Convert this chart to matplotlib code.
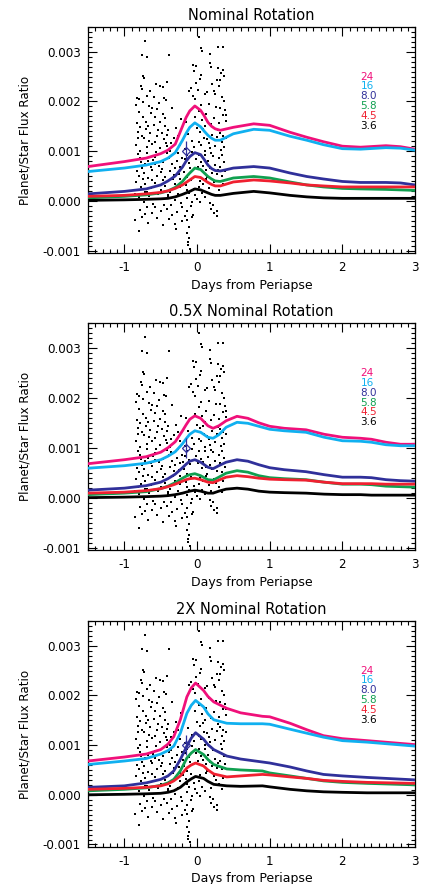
import matplotlib
matplotlib.use("Agg")
import matplotlib.pyplot as plt
from matplotlib.ticker import MultipleLocator, FormatStrFormatter

titles = ["Nominal Rotation", "0.5X Nominal Rotation", "2X Nominal Rotation"]
bands = ["24", "16", "8.0", "5.8", "4.5", "3.6"]
band_colors = ["#F0107A", "#10B0F0", "#30309A", "#10A050", "#F02030", "#000000"]

# ---- model curves, panel 1 (nominal rotation)
x_nom = [-1.5, -1.0, -0.7, -0.5, -0.4, -0.3, -0.2, -0.15, -0.1, -0.03, 0.05, 0.1, 0.15, 0.2, 0.25, 0.32,
         0.5, 0.78, 1.0, 1.28, 1.51, 1.74, 2.0, 2.25, 2.6, 2.8, 3.0]
nom_24 = [0.00069, 0.00079, 0.00086, 0.00095, 0.00102, 0.00114, 0.00150, 0.00168, 0.00181, 0.00191, 0.00182,
          0.00171, 0.00158, 0.00150, 0.00145, 0.00142, 0.00148, 0.00155, 0.00152, 0.00138, 0.00128, 0.00119,
          0.00110, 0.00108, 0.00111, 0.00109, 0.00104]
nom_16 = [0.00059, 0.00066, 0.00072, 0.00079, 0.00086, 0.00097, 0.00122, 0.00136, 0.00148, 0.00157, 0.00149,
          0.00140, 0.00132, 0.00126, 0.00122, 0.00122, 0.00135, 0.00144, 0.00142, 0.00130, 0.00122, 0.00113,
          0.00105, 0.00104, 0.00107, 0.00106, 0.00102]
nom_80 = [0.00014, 0.00019, 0.00024, 0.00032, 0.00040, 0.00050, 0.00068, 0.00080, 0.00089, 0.00097, 0.00093,
          0.00083, 0.00072, 0.00065, 0.00061, 0.00060, 0.00066, 0.00069, 0.00066, 0.00056, 0.00049, 0.00044,
          0.00039, 0.00037, 0.00037, 0.00036, 0.00032]
nom_58 = [0.00006, 0.00009, 0.00012, 0.00016, 0.00020, 0.00027, 0.00039, 0.00048, 0.00056, 0.00066, 0.00063,
          0.00056, 0.00049, 0.00044, 0.00040, 0.00039, 0.00046, 0.00049, 0.00046, 0.00038, 0.00032, 0.00028,
          0.00025, 0.00024, 0.00023, 0.00022, 0.00021]
nom_45 = [0.00009, 0.00011, 0.00014, 0.00017, 0.00020, 0.00025, 0.00032, 0.00037, 0.00042, 0.00049, 0.00047,
          0.00042, 0.00037, 0.00033, 0.00030, 0.00030, 0.00038, 0.00042, 0.00040, 0.00036, 0.00032, 0.00030,
          0.00028, 0.00028, 0.00028, 0.00028, 0.00028]
nom_36 = [0.00001, 0.00002, 0.00003, 0.00004, 0.00005, 0.00008, 0.00013, 0.00016, 0.00019, 0.00024, 0.00022,
          0.00019, 0.00016, 0.00013, 0.00011, 0.00011, 0.00015, 0.00019, 0.00016, 0.00011, 0.00008, 0.00006,
          0.00005, 0.00005, 0.00005, 0.00005, 0.00005]

# ---- panel 2 (0.5X nominal rotation)
x_half = [-1.5, -1.0, -0.7, -0.5, -0.4, -0.3, -0.2, -0.15, -0.1, -0.03, 0.05, 0.15, 0.22, 0.3, 0.4, 0.55,
          0.7, 0.85, 1.0, 1.2, 1.5, 1.75, 2.0, 2.25, 2.4, 2.6, 2.8, 3.0]
half_24 = [0.00068, 0.00076, 0.00082, 0.00091, 0.00100, 0.00112, 0.00134, 0.00146, 0.00157, 0.00164, 0.00159,
           0.00144, 0.00139, 0.00144, 0.00154, 0.00163, 0.00159, 0.00150, 0.00143, 0.00139, 0.00136, 0.00127,
           0.00121, 0.00119, 0.00117, 0.00111, 0.00107, 0.00107]
half_16 = [0.00059, 0.00064, 0.00069, 0.00076, 0.00083, 0.00092, 0.00108, 0.00118, 0.00127, 0.00134, 0.00131,
           0.00121, 0.00119, 0.00126, 0.00141, 0.00151, 0.00149, 0.00143, 0.00137, 0.00134, 0.00131, 0.00121,
           0.00114, 0.00113, 0.00111, 0.00106, 0.00104, 0.00104]
half_80 = [0.00015, 0.00019, 0.00024, 0.00031, 0.00038, 0.00047, 0.00060, 0.00067, 0.00073, 0.00076, 0.00071,
           0.00061, 0.00058, 0.00064, 0.00071, 0.00076, 0.00073, 0.00066, 0.00060, 0.00056, 0.00052, 0.00046,
           0.00041, 0.00041, 0.00040, 0.00036, 0.00034, 0.00033]
half_58 = [0.00006, 0.00009, 0.00012, 0.00018, 0.00023, 0.00030, 0.00039, 0.00043, 0.00046, 0.00048, 0.00044,
           0.00036, 0.00035, 0.00041, 0.00049, 0.00054, 0.00051, 0.00044, 0.00040, 0.00038, 0.00036, 0.00031,
           0.00027, 0.00027, 0.00026, 0.00023, 0.00022, 0.00021]
half_45 = [0.00009, 0.00011, 0.00014, 0.00018, 0.00022, 0.00027, 0.00033, 0.00036, 0.00038, 0.00039, 0.00036,
           0.00031, 0.00030, 0.00035, 0.00041, 0.00044, 0.00042, 0.00039, 0.00037, 0.00036, 0.00035, 0.00031,
           0.00028, 0.00028, 0.00028, 0.00027, 0.00027, 0.00027]
half_36 = [0.00000, 0.00001, 0.00002, 0.00003, 0.00004, 0.00006, 0.00009, 0.00011, 0.00013, 0.00015, 0.00013,
           0.00009, 0.00009, 0.00013, 0.00017, 0.00019, 0.00017, 0.00013, 0.00011, 0.00010, 0.00009, 0.00007,
           0.00006, 0.00006, 0.00005, 0.00005, 0.00005, 0.00005]

# ---- panel 3 (2X nominal rotation)
x_dbl = [-1.5, -1.0, -0.7, -0.5, -0.4, -0.32, -0.23, -0.14, -0.08, -0.02, 0.09, 0.15, 0.23, 0.41, 0.6,
         0.9, 1.0, 1.28, 1.51, 1.74, 2.0, 2.34, 3.0]
dbl_24 = [0.00068, 0.00076, 0.00082, 0.00091, 0.00102, 0.00117, 0.00151, 0.00197, 0.00215, 0.00225, 0.00210,
          0.00198, 0.00187, 0.00174, 0.00165, 0.00158, 0.00157, 0.00144, 0.00131, 0.00119, 0.00113, 0.00109,
          0.00101]
dbl_16 = [0.00061, 0.00068, 0.00073, 0.00082, 0.00089, 0.00098, 0.00124, 0.00164, 0.00180, 0.00190, 0.00177,
          0.00163, 0.00151, 0.00144, 0.00143, 0.00143, 0.00142, 0.00132, 0.00124, 0.00116, 0.00109, 0.00106,
          0.00098]
dbl_80 = [0.00015, 0.00018, 0.00024, 0.00031, 0.00038, 0.00048, 0.00071, 0.00098, 0.00114, 0.00125, 0.00112,
          0.00101, 0.00091, 0.00078, 0.00072, 0.00066, 0.00064, 0.00056, 0.00048, 0.00041, 0.00038, 0.00035,
          0.00030]
dbl_58 = [0.00008, 0.00011, 0.00014, 0.00019, 0.00024, 0.00031, 0.00048, 0.00074, 0.00084, 0.00091, 0.00081,
          0.00071, 0.00061, 0.00052, 0.00050, 0.00048, 0.00044, 0.00038, 0.00033, 0.00028, 0.00025, 0.00023,
          0.00020]
dbl_45 = [0.00011, 0.00013, 0.00015, 0.00018, 0.00022, 0.00028, 0.00038, 0.00054, 0.00060, 0.00064, 0.00058,
          0.00050, 0.00042, 0.00036, 0.00038, 0.00041, 0.00040, 0.00036, 0.00033, 0.00029, 0.00027, 0.00025,
          0.00023]
dbl_36 = [0.00000, 0.00001, 0.00002, 0.00003, 0.00005, 0.00008, 0.00015, 0.00026, 0.00032, 0.00037, 0.00033,
          0.00027, 0.00021, 0.00018, 0.00017, 0.00018, 0.00016, 0.00011, 0.00008, 0.00006, 0.00005, 0.00004,
          0.00004]

# ---- observed photometry (identical in every panel): (days, flux ratio)
obs_points = [
    (0.032, 0.00330), (-0.722, 0.00322), (0.048, 0.00307), (0.071, 0.00302), (0.284, 0.00309), (0.358, 0.00310),
    (-0.764, 0.00293), (-0.683, 0.00290), (-0.381, 0.00294), (0.176, 0.00296), (-0.062, 0.00274), (-0.013, 0.00272),
    (-0.046, 0.00262), (0.293, 0.00267), (0.352, 0.00263), (-0.748, 0.00252), (-0.731, 0.00247), (0.172, 0.00278),
    (0.197, 0.00270), (0.058, 0.00253), (0.043, 0.00245), (0.367, 0.00252), (0.334, 0.00258),
    (-0.566, 0.00235), (-0.503, 0.00231), (-0.472, 0.00229), (-0.412, 0.00239), (-0.777, 0.00231), (-0.761, 0.00225),
    (-0.088, 0.00227), (-0.117, 0.00222), (0.268, 0.00244), (0.318, 0.00243), (-0.826, 0.00207), (-0.804, 0.00204),
    (-0.694, 0.00212), (-0.597, 0.00209), (-0.458, 0.00206), (-0.427, 0.00203), (-0.051, 0.00212), (-0.024, 0.00204),
    (0.137, 0.00219), (0.229, 0.00222), (0.252, 0.00216), (0.343, 0.00209), (0.369, 0.00200), (0.104, 0.00215),
    (0.206, 0.00236), (-0.016, 0.00238), (-0.642, 0.00221), (0.013, 0.00224), (0.309, 0.00232),
    (-0.833, 0.00192), (-0.738, 0.00198), (-0.661, 0.00190), (-0.343, 0.00186), (-0.548, 0.00184), (0.323, 0.00187),
    (0.384, 0.00183), (0.052, 0.00192), (0.158, 0.00194), (-0.628, 0.00176), (-0.574, 0.00169), (-0.473, 0.00174),
    (-0.437, 0.00167), (-0.822, 0.00156), (-0.786, 0.00149), (-0.707, 0.00159), (-0.673, 0.00151), (-0.592, 0.00153),
    (-0.504, 0.00158), (-0.446, 0.00151), (-0.394, 0.00143), (-0.283, 0.00146), (-0.214, 0.00164), (-0.158, 0.00159),
    (0.073, 0.00163), (0.114, 0.00151), (0.233, 0.00166), (0.297, 0.00157), (0.392, 0.00173), (0.401, 0.00161),
    (-0.796, 0.00178), (-0.521, 0.00196), (0.024, 0.00181), (0.127, 0.00174), (0.262, 0.00188), (-0.028, 0.00168),
    (0.198, 0.00155), (-0.743, 0.00168), (-0.617, 0.00186), (0.356, 0.00172),
    (-0.807, 0.00139), (-0.758, 0.00131), (-0.726, 0.00126), (-0.645, 0.00136), (-0.553, 0.00131), (-0.484, 0.00137),
    (-0.452, 0.00124), (-0.408, 0.00133), (-0.318, 0.00126), (0.047, 0.00139), (0.093, 0.00127), (0.143, 0.00124),
    (0.212, 0.00133), (0.316, 0.00137), (0.363, 0.00131), (-0.836, 0.00113), (-0.789, 0.00101), (-0.687, 0.00108),
    (-0.619, 0.00114), (-0.568, 0.00098), (-0.513, 0.00106), (-0.414, 0.00110), (-0.366, 0.00101), (-0.232, 0.00113),
    (-0.163, 0.00104), (-0.072, 0.00120), (-0.038, 0.00108), (0.056, 0.00113), (0.108, 0.00101), (0.184, 0.00106),
    (0.247, 0.00111), (0.327, 0.00103), (0.378, 0.00108), (-0.817, 0.00127), (-0.702, 0.00144), (-0.583, 0.00119),
    (-0.532, 0.00143), (-0.352, 0.00117), (-0.264, 0.00131), (-0.124, 0.00134), (0.003, 0.00146), (0.021, 0.00118),
    (0.083, 0.00144), (0.163, 0.00117), (0.274, 0.00128), (0.288, 0.00142), (0.344, 0.00119), (0.397, 0.00127),
    (-0.664, 0.00121), (-0.431, 0.00116),
    (-0.781, 0.00086), (-0.716, 0.00074), (-0.668, 0.00080), (-0.603, 0.00083), (-0.527, 0.00071), (-0.463, 0.00078),
    (-0.386, 0.00086), (-0.342, 0.00074), (-0.276, 0.00080), (-0.207, 0.00086), (-0.144, 0.00093), (-0.017, 0.00084),
    (0.054, 0.00078), (0.113, 0.00093), (0.157, 0.00081), (0.226, 0.00091), (0.303, 0.00086), (0.338, 0.00093),
    (-0.828, 0.00060), (-0.797, 0.00051), (-0.734, 0.00057), (-0.672, 0.00045), (-0.614, 0.00063), (-0.556, 0.00051),
    (-0.497, 0.00058), (-0.443, 0.00047), (-0.374, 0.00061), (-0.322, 0.00053), (-0.253, 0.00055), (-0.228, 0.00043),
    (-0.183, 0.00058), (-0.137, 0.00048), (-0.093, 0.00067), (0.068, 0.00060), (0.142, 0.00048), (0.207, 0.00057),
    (0.283, 0.00063), (0.347, 0.00051), (-0.812, 0.00094), (-0.753, 0.00066), (-0.692, 0.00097), (-0.633, 0.00069),
    (-0.574, 0.00089), (-0.487, 0.00064), (-0.418, 0.00096), (-0.304, 0.00066), (-0.262, 0.00097), (-0.193, 0.00071),
    (-0.107, 0.00076), (-0.064, 0.00098), (0.012, 0.00069), (0.034, 0.00093), (0.087, 0.00071), (0.128, 0.00062),
    (0.193, 0.00096), (0.253, 0.00073), (0.268, 0.00054), (0.312, 0.00069), (0.373, 0.00079), (0.387, 0.00061),
    (-0.768, 0.00078), (-0.582, 0.00075), (-0.357, 0.00091), (-0.238, 0.00069), (-0.162, 0.00084), (0.178, 0.00066),
    (-0.834, 0.00037), (-0.776, 0.00028), (-0.714, 0.00033), (-0.636, 0.00025), (-0.572, 0.00035), (-0.502, 0.00022),
    (-0.438, 0.00030), (-0.368, 0.00018), (-0.297, 0.00033), (-0.233, 0.00027), (-0.156, 0.00031), (-0.113, 0.00015),
    (-0.047, 0.00024), (0.023, 0.00027), (0.088, 0.00033), (0.162, 0.00025), (0.234, 0.00037), (0.298, 0.00022),
    (0.343, 0.00012), (-0.803, 0.00007), (-0.727, -0.00002), (-0.663, 0.00010), (-0.604, -0.00006), (-0.528, 0.00004),
    (-0.456, -0.00008), (-0.393, 0.00007), (-0.306, 0.00002), (-0.214, -0.00005), (-0.142, 0.00005), (-0.068, -0.00003),
    (0.004, 0.00004), (0.046, -0.00002), (0.112, 0.00007), (0.183, -0.00005), (-0.817, 0.00021), (-0.746, 0.00044),
    (-0.683, 0.00017), (-0.613, 0.00042), (-0.537, 0.00013), (-0.474, 0.00041), (-0.406, 0.00011), (-0.327, 0.00044),
    (-0.267, 0.00014), (-0.188, 0.00040), (-0.133, 0.00022), (-0.082, 0.00041), (-0.027, 0.00012), (0.038, 0.00040),
    (0.072, 0.00015), (0.123, 0.00043), (0.197, 0.00013), (0.264, 0.00029), (0.362, 0.00034), (-0.848, 0.00013),
    (-0.712, 0.00018),
    (-0.784, -0.00018), (-0.693, -0.00013), (-0.617, -0.00025), (-0.498, -0.00020), (-0.412, -0.00016),
    (-0.343, -0.00028), (-0.281, -0.00022), (-0.206, -0.00012), (-0.144, -0.00020), (-0.087, -0.00010),
    (-0.053, -0.00028), (0.193, -0.00017), (0.276, -0.00021), (-0.853, -0.00038), (-0.762, -0.00033),
    (-0.674, -0.00045), (-0.547, -0.00035), (-0.463, -0.00048), (-0.387, -0.00036), (-0.302, -0.00046),
    (-0.213, -0.00041), (-0.137, -0.00039), (-0.114, -0.00053), (-0.073, -0.00033), (-0.802, -0.00061),
    (-0.283, -0.00056), (-0.142, -0.00065), (-0.108, -0.00075), (-0.127, -0.00089), (-0.098, -0.00096),
    (-0.118, -0.00082), (0.228, -0.00025), (0.273, -0.00031), (-0.584, -0.00012), (-0.362, -0.00009),
    (-0.172, -0.00030), (-0.722, -0.00026), (0.214, -0.00008),
]
obs_x = [p[0] for p in obs_points]
obs_y = [p[1] for p in obs_points]

# ---- binned point with error bar
bin_x = [-0.15]
bin_y = [0.0010]
bin_err = [0.0002]

panels = [
    (x_nom, [nom_24, nom_16, nom_80, nom_58, nom_45, nom_36]),
    (x_half, [half_24, half_16, half_80, half_58, half_45, half_36]),
    (x_dbl, [dbl_24, dbl_16, dbl_80, dbl_58, dbl_45, dbl_36]),
]

fig = plt.figure(figsize=(4.30, 8.84), dpi=100)
fig.patch.set_facecolor("white")
ax_rects = [
    [0.2047, 0.7138, 0.7605, 0.2557],
    [0.2047, 0.3778, 0.7605, 0.2568],
    [0.2047, 0.0419, 0.7605, 0.2557],
]

for rect, title, (xs, series) in zip(ax_rects, titles, panels):
    ax = fig.add_axes(rect)
    ax.scatter(obs_x, obs_y, s=3.4, c="black", marker="s", linewidths=0, zorder=2)
    for ys, col in zip(series, band_colors):
        ax.plot(xs, ys, color=col, lw=2.0, zorder=3, solid_joinstyle="round")
    ax.errorbar(bin_x, bin_y, yerr=bin_err, fmt="D", ms=4.5, mfc="none",
                mec=band_colors[2], ecolor=band_colors[2], mew=0.9, elinewidth=0.9,
                capsize=0, zorder=4)
    for i, (lab, col) in enumerate(zip(bands, band_colors)):
        ax.text(2.25, 0.00250 - i * 0.000198, lab, color=col, fontsize=7.5,
                ha="left", va="center", zorder=5)
    ax.set_xlim(-1.5, 3.0)
    ax.set_ylim(-0.00105, 0.0035)
    ax.xaxis.set_major_locator(MultipleLocator(1))
    ax.xaxis.set_minor_locator(MultipleLocator(0.1))
    ax.yaxis.set_major_locator(MultipleLocator(0.001))
    ax.yaxis.set_minor_locator(MultipleLocator(0.0001))
    ax.yaxis.set_major_formatter(FormatStrFormatter("%.3f"))
    ax.xaxis.set_major_formatter(FormatStrFormatter("%g"))
    ax.tick_params(which="both", direction="in", top=True, right=True,
                   labelsize=8.6, width=0.8, colors="black")
    ax.tick_params(which="major", length=6.5, pad=5)
    ax.tick_params(axis="x", which="major", pad=6)
    ax.tick_params(which="minor", length=3)
    for sp in ax.spines.values():
        sp.set_linewidth(0.9)
    ax.set_title(title, fontsize=10.5, pad=5)
    ax.set_xlabel("Days from Periapse", fontsize=9, labelpad=3)
    ax.set_ylabel("Planet/Star Flux Ratio", fontsize=8.6, labelpad=8)

fig.savefig("out.png", dpi=100, facecolor="white")
